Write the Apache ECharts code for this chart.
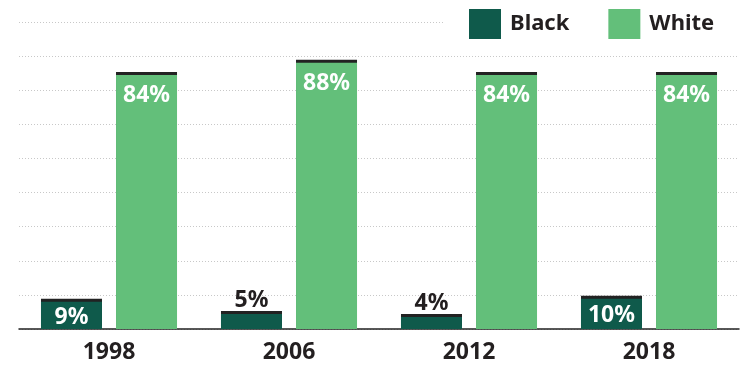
<!DOCTYPE html>
<html><head><meta charset="utf-8">
<script src="https://cdn.jsdelivr.net/npm/echarts@6/dist/echarts.min.js"></script>
<style>html,body{margin:0;padding:0;background:#fff}#c{width:747px;height:367px}</style>
</head><body><div id="c"></div>
<script>
const categories = ['1998', '2006', '2012', '2018'];
const blackValues = [9, 5, 4, 10];
const whiteValues = [84, 88, 84, 84];
const seriesNames = ['Black', 'White'];

const FONT = 'Noto Sans';
const DARK = '#0f5a4b';
const LIGHT = '#63bf7a';
const INK = '#231f20';
const AXIS_MAX = 101.5;

const blackData = blackValues.map(v => v >= 8
  ? { value: v, label: { position: 'inside', offset: [0, 2], color: '#fff' } }
  : { value: v, label: { position: 'top', distance: 2, color: INK } });

const chart = echarts.init(document.getElementById('c'), null, { renderer: 'canvas' });
chart.setOption({
  animation: false,
  textStyle: { fontFamily: FONT },
  grid: { left: 19, right: 8, top: 22, bottom: 38 },
  legend: {
    left: 464, top: 4, z: 10,
    itemWidth: 32, itemHeight: 30, itemGap: 39,
    icon: 'rect',
    textStyle: { fontFamily: FONT, fontWeight: 'bold', fontSize: 22, color: INK, padding: [0, 0, 0, 4] },
    data: seriesNames
  },
  xAxis: {
    type: 'category', data: categories,
    axisTick: { show: false },
    axisLine: { lineStyle: { color: '#222', width: 1.5 } },
    axisLabel: { fontFamily: FONT, fontWeight: 'bold', fontSize: 23, color: INK, margin: 12 }
  },
  yAxis: {
    type: 'value', min: 0, max: AXIS_MAX, interval: AXIS_MAX / 9,
    axisLabel: { show: false }, axisLine: { show: false }, axisTick: { show: false },
    splitLine: { lineStyle: { color: '#c8c8c8', type: [1, 2], width: 1 } }
  },
  graphic: [{ type: 'rect', z: 5, shape: { x: 444, y: 18, width: 303, height: 8 }, style: { fill: '#fff' } }],
  series: [
    {
      name: seriesNames[0], type: 'bar', data: blackData,
      barWidth: 61, barGap: '23%', barCategoryGap: '24%',
      itemStyle: { color: DARK, shadowColor: '#222', shadowBlur: 0, shadowOffsetY: -3 },
      label: { show: true, formatter: '{c}%', fontFamily: FONT, fontWeight: 'bold', fontSize: 23 }
    },
    {
      name: seriesNames[1], type: 'bar', data: whiteValues,
      barWidth: 61,
      itemStyle: { color: LIGHT, shadowColor: '#222', shadowBlur: 0, shadowOffsetY: -3 },
      label: { show: true, position: 'insideTop', distance: 9, formatter: '{c}%', color: '#fff', fontFamily: FONT, fontWeight: 'bold', fontSize: 23 }
    }
  ]
});
</script></body></html>
